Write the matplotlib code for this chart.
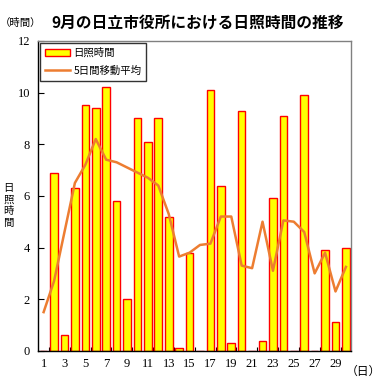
import matplotlib
matplotlib.use("Agg")
import matplotlib.pyplot as plt
import numpy as np

plt.rcParams["font.family"] = ["Noto Sans CJK JP", "DejaVu Sans"]

BAR_YELLOW = "#FFFF00"
BAR_RED = "#FF0000"
LINE_ORANGE = "#ED7D31"
FRAME_GRAY = "#808080"

days = list(range(1, 31))
sunshine = [0.0, 6.9, 0.6, 6.3, 9.5, 9.4, 10.2, 5.8, 2.0, 9.0,
            8.1, 9.0, 5.2, 0.1, 3.8, 0.0, 10.1, 6.4, 0.3, 9.3,
            0.0, 0.4, 5.9, 9.1, 0.0, 9.9, 0.0, 3.9, 1.1, 4.0]
moving_avg = [1.5, 2.7, 4.6, 6.5, 7.2, 8.2, 7.4, 7.3, 7.1, 6.9,
              6.7, 6.4, 5.3, 3.65, 3.8, 4.1, 4.15, 5.2, 5.2, 3.3,
              3.2, 5.0, 3.1, 5.05, 5.0, 4.6, 3.0, 3.8, 2.3, 3.25]
xtick_days = list(range(1, 30, 2))
yticks = list(range(0, 13, 2))

fig = plt.figure(figsize=(3.88, 3.89), dpi=100)
ax = fig.add_axes([0.099, 0.098, 0.806, 0.797])

bars = ax.bar(days, sunshine, width=0.73, color=BAR_YELLOW, edgecolor=BAR_RED,
              linewidth=1.0, label="日照時間", zorder=2)
line, = ax.plot(days, moving_avg, color=LINE_ORANGE, linewidth=1.8,
                label="5日間移動平均", zorder=3)

ax.set_xlim(0.5, 30.5)
ax.set_ylim(0, 12)
ax.set_xticks(xtick_days)
ax.set_xticklabels([str(d) for d in xtick_days], family="Liberation Serif", fontsize=9)
ax.set_yticks(yticks)
ax.set_yticklabels([str(v) for v in yticks], family="Liberation Serif", fontsize=9)
ax.tick_params(axis="x", length=0, pad=5)
ax.set_xticks(np.arange(1.5, 30, 2), minor=True)
ax.tick_params(axis="x", which="minor", direction="in", length=3, width=0.8)
ax.tick_params(axis="y", direction="in", length=4, width=0.8, pad=6)

for side in ("top", "right"):
    ax.spines[side].set_color(FRAME_GRAY)
    ax.spines[side].set_linewidth(1.0)
for side in ("left", "bottom"):
    ax.spines[side].set_color("black")
    ax.spines[side].set_linewidth(1.0)

leg = ax.legend([bars, line], ["日照時間", "5日間移動平均"],
                loc="upper left", bbox_to_anchor=(0.0, 1.0), fontsize=7.5,
                frameon=True, fancybox=False, borderpad=0.45, labelspacing=0.75,
                handlelength=2.4, handleheight=0.6, handletextpad=0.3,
                borderaxespad=0.2)
leg.get_frame().set_edgecolor("black")
leg.get_frame().set_linewidth(1.0)

fig.text(0.51, 0.941, "9月の日立市役所における日照時間の推移", ha="center", va="center",
         fontsize=11.3, fontweight="bold")
fig.text(0.0, 0.941, "（時間）", ha="left", va="center", fontsize=7.5)
for i, ch in enumerate("日照時間"):
    fig.text(0.022, 0.516 - i * 0.0296, ch, ha="center", va="center", fontsize=7.5)
fig.text(0.936, 0.046, "（日）", ha="center", va="center", fontsize=8.5)

fig.savefig("out.png", dpi=100)
